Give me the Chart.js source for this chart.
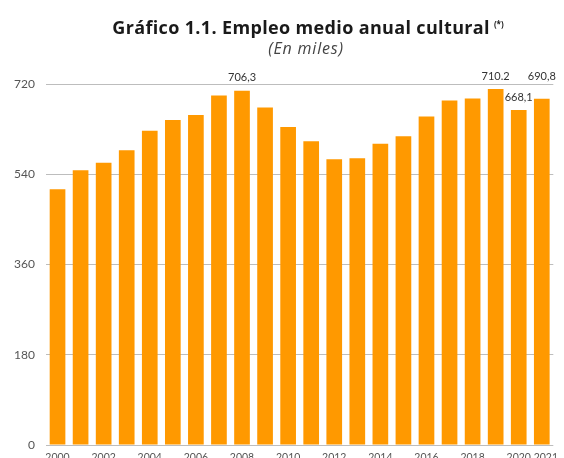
<!DOCTYPE html>
<html>
<head>
<meta charset="utf-8">
<script src="https://cdn.jsdelivr.net/npm/chart.js@4/dist/chart.umd.min.js"></script>
<style>
  html, body { margin:0; padding:0; background:#fff; width:564px; height:458px; overflow:hidden; }
  #wrap { position:relative; width:564px; height:470px; }
  #title { position:absolute; left:58px; width:500px; top:16px; text-align:center; white-space:nowrap;
           font-family:"Open Sans", Lato, sans-serif; font-weight:700; font-size:18px; color:#1a1a1a; line-height:22px; letter-spacing:0.35px; }
  #title sup { font-size:8px; font-weight:700; vertical-align:top; position:relative; top:-3px; margin-left:4px; letter-spacing:0; }
  #sub { position:absolute; left:56px; width:500px; top:38px; text-align:center;
         font-family:"Open Sans", Lato, sans-serif; font-style:italic; font-size:16px; color:#444; line-height:20px; letter-spacing:0.8px; }
  canvas { position:absolute; left:0; top:0; }
</style>
</head>
<body>
<div id="wrap">
  <canvas id="c" width="564" height="470"></canvas>
  <div id="title">Gráfico 1.1. Empleo medio anual cultural<sup>(*)</sup></div>
  <div id="sub">(En miles)</div>
</div>
<script>
const years = ['2000','2001','2002','2003','2004','2005','2006','2007','2008','2009','2010',
               '2011','2012','2013','2014','2015','2016','2017','2018','2019','2020','2021'];
const empleo = [510, 548, 563, 588, 627, 648, 658, 697, 706.3, 673, 634,
                606, 570, 572, 601, 616, 655, 687, 691, 710.2, 668.1, 690.8];
const yTicks = [0, 180, 360, 540, 720];
const labelIdx = [8, 19, 20, 21];
const labelText = ['706,3', '710.2', '668,1', '690,8'];

const labelLift = {8: 10, 19: 9, 20: 9, 21: 19};

const valueLabels = {
  id: 'valueLabels',
  afterDatasetsDraw(chart) {
    const ctx = chart.ctx;
    const meta = chart.getDatasetMeta(0);
    ctx.save();
    ctx.font = '11px Lato, "Open Sans", sans-serif';
    ctx.fillStyle = '#333';
    ctx.textAlign = 'center';
    ctx.textBaseline = 'alphabetic';
    labelIdx.forEach((i, k) => {
      const bar = meta.data[i];
      ctx.fillText(labelText[k], bar.x, bar.y - labelLift[i]);
    });
    ctx.restore();
  }
};

new Chart(document.getElementById('c'), {
  type: 'bar',
  data: {
    labels: years,
    datasets: [{
      data: empleo,
      backgroundColor: '#FF9900',
      borderWidth: 0,
      barPercentage: 0.68,
      categoryPercentage: 1.0
    }]
  },
  options: {
    responsive: false,
    animation: false,
    layout: { padding: { top: 84, left: 0, right: 0, bottom: 0 } },
    plugins: { legend: { display: false }, title: { display: false }, tooltip: { enabled: false } },
    scales: {
      x: {
        grid: { display: false, drawTicks: false },
        border: { display: false },
        afterFit(s) { s.height = 25; },
        ticks: {
          autoSkip: false,
          maxRotation: 0,
          padding: 6,
          color: '#555',
          font: { family: 'Lato, "Open Sans", sans-serif', size: 10.5 },
          callback(v, i) {
            if (i === years.length - 1) return '   ' + years[i];
            return (i % 2 === 0) ? years[i] : '';
          }
        }
      },
      y: {
        min: 0, max: 720,
        afterBuildTicks(s) { s.ticks = yTicks.map(v => ({ value: v })); },
        afterFit(s) { s.width = 46; },
        grid: { color: '#bdbdbd', lineWidth: 1, drawTicks: false },
        border: { display: false },
        ticks: {
          padding: 11,
          color: '#555',
          font: { family: 'Lato, "Open Sans", sans-serif', size: 12 }
        }
      }
    }
  },
  plugins: [valueLabels]
});
</script>
</body>
</html>
